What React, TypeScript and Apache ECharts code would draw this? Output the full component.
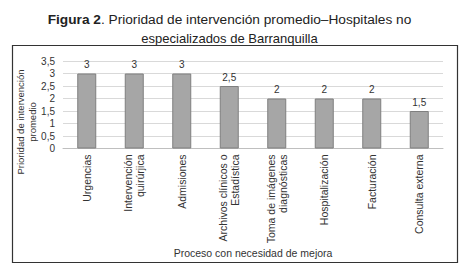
import React, { useEffect, useRef } from "react";
import * as echarts from "echarts";

const categories = [
  "Urgencias",
  "Intervención\nquirúrjica",
  "Admisiones",
  "Archivos clínicos o\nEstadística",
  "Toma de imágenes\ndiagnósticas",
  "Hospitalización",
  "Facturación",
  "Consulta externa",
];
const values = [3, 3, 3, 2.5, 2, 2, 2, 1.5];
const yTicks = [0, 0.5, 1, 1.5, 2, 2.5, 3, 3.5];

const fmt = (v: number) => String(v).replace(".", ",");
const FONT = "Liberation Sans, Arial, sans-serif";

export default function App() {
  const ref = useRef<HTMLDivElement>(null);
  useEffect(() => {
    if (!ref.current) return;
    const chart = echarts.init(ref.current, undefined, { renderer: "svg" });
    chart.setOption({
      animation: false,
      backgroundColor: "#ffffff",
      textStyle: { fontFamily: FONT },
      title: [
        {
          text: "{b|Figura 2}{n|. Prioridad de intervención promedio–Hospitales no}",
          left: "center",
          top: 7,
          textStyle: {
            fontFamily: FONT,
            fontSize: 13.7,
            fontWeight: "normal",
            color: "#222",
            rich: {
              b: { fontFamily: FONT, fontSize: 13.7, fontWeight: "bold", color: "#222" },
              n: { fontFamily: FONT, fontSize: 13.7, fontWeight: "normal", color: "#222" },
            },
          },
        },
        {
          text: "especializados de Barranquilla",
          left: "center",
          top: 27,
          textStyle: { fontFamily: FONT, fontSize: 13, fontWeight: "normal", color: "#222" },
        },
      ],
      graphic: [
        {
          type: "rect",
          left: 10,
          top: 43,
          z: 100,
          shape: { width: 445, height: 217 },
          style: { fill: null, stroke: "#333333", lineWidth: 1.2 },
        },
        {
          type: "text",
          x: 26,
          y: 122,
          rotation: Math.PI / 2,
          z: 100,
          style: {
            text: "Prioridad de intervención\npromedio",
            fontFamily: FONT,
            fontSize: 9.5,
            lineHeight: 12,
            fill: "#333",
            align: "center",
            verticalAlign: "middle",
          },
        },
      ],
      grid: { left: 63, right: 16, top: 61, bottom: 125.5, containLabel: false },
      xAxis: {
        type: "category",
        data: categories,
        name: "Proceso con necesidad de mejora",
        nameLocation: "middle",
        nameGap: 99,
        nameTextStyle: { fontFamily: FONT, fontSize: 10.5, color: "#333" },
        axisLine: { lineStyle: { color: "#bfbfbf" } },
        axisTick: { show: false },
        axisLabel: {
          interval: 0,
          rotate: 90,
          fontFamily: FONT,
          fontSize: 10.5,
          lineHeight: 12,
          color: "#333",
          margin: 6,
        },
      },
      yAxis: {
        type: "value",
        min: 0,
        max: 3.5,
        interval: 0.5,
        axisLine: { show: false },
        axisTick: { show: false },
        splitLine: { lineStyle: { color: "#d9d9d9" } },
        axisLabel: {
          fontFamily: FONT,
          fontSize: 10,
          color: "#333",
          margin: 8,
          formatter: (v: number) => (yTicks.includes(v) ? fmt(v) : ""),
        },
      },
      series: [
        {
          type: "bar",
          data: values,
          barWidth: 19,
          itemStyle: { color: "#a6a6a6", borderColor: "#7f7f7f", borderWidth: 1 },
          label: {
            show: true,
            position: "top",
            distance: 4,
            fontFamily: FONT,
            fontSize: 10,
            color: "#333",
            formatter: (p: any) => fmt(p.value),
          },
        },
      ],
    });
    return () => chart.dispose();
  }, []);
  return (
    <div
      ref={ref}
      style={{ position: "fixed", left: 0, top: 0, width: 459, height: 274 }}
    />
  );
}
